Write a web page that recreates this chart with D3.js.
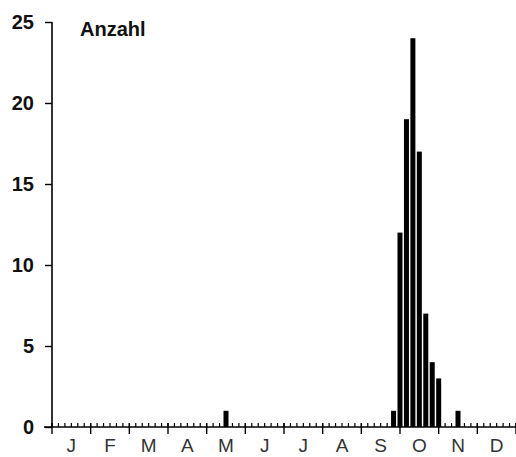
<!DOCTYPE html>
<html>
<head>
<meta charset="utf-8">
<script src="https://cdn.jsdelivr.net/npm/d3@7"></script>
<style>
  body { margin: 0; background: #fff; }
  svg { display: block; }
</style>
</head>
<body>
<svg id="chart" width="516" height="457"></svg>
<script>
// pentads (5-day periods) numbered 0..72 along the year, value = count
const pentads = [27, 53, 54, 55, 56, 57, 58, 59, 60, 63];
const counts  = [1,  1,  12, 19, 24, 17, 7,  4,  3,  1];
const months = ["J", "F", "M", "A", "M", "J", "J", "A", "S", "O", "N", "D"];
const yTicks = [0, 5, 10, 15, 20, 25];

const width = 516, height = 457;
const margin = { top: 22, right: 0, bottom: 30, left: 52 };

const svg = d3.select("#chart");

const x = d3.scaleLinear()
  .domain([0, 72])
  .range([margin.left, width - margin.right]);

const y = d3.scaleLinear()
  .domain([0, 25])
  .range([427, margin.top]);

const data = pentads.map((p, i) => ({ p: p, v: counts[i] }));
const barW = 5;

// bars
svg.append("g")
  .selectAll("rect")
  .data(data)
  .join("rect")
  .attr("x", d => x(d.p) - barW / 2)
  .attr("width", barW)
  .attr("y", d => y(d.v))
  .attr("height", d => y(0) - y(d.v))
  .attr("fill", "#000");

// y axis
const yAxis = g => g
  .attr("transform", `translate(${margin.left},0)`)
  .call(d3.axisLeft(y).tickValues(yTicks).tickSize(7).tickPadding(11))
  .call(g => g.select(".domain").attr("d", `M0,${y(25)}H0V${y(0)}`).attr("stroke-width", 1.6))
  .call(g => g.selectAll(".tick line").attr("stroke-width", 1.4))
  .call(g => g.selectAll("text")
    .attr("font-family", "Liberation Sans, Arial, sans-serif")
    .attr("font-weight", "bold")
    .attr("font-size", 20)
    .attr("fill", "#111"));
svg.append("g").call(yAxis);

// x axis baseline
const base = y(0);
svg.append("line")
  .attr("x1", margin.left - 8).attr("x2", x(72))
  .attr("y1", base).attr("y2", base)
  .attr("stroke", "#000").attr("stroke-width", 1.6);

// minor (pentad) ticks pointing up
svg.append("g")
  .selectAll("line")
  .data(d3.range(0, 73))
  .join("line")
  .attr("x1", d => x(d)).attr("x2", d => x(d))
  .attr("y1", base).attr("y2", base - 4)
  .attr("stroke", "#000").attr("stroke-width", 1.2);

// month ticks
svg.append("g")
  .selectAll("line")
  .data(d3.range(0, 13).map(m => m * 6))
  .join("line")
  .attr("x1", d => x(d)).attr("x2", d => x(d))
  .attr("y1", base - 4).attr("y2", base + 7)
  .attr("stroke", "#000").attr("stroke-width", 1.4);

// month labels
svg.append("g")
  .selectAll("text")
  .data(months)
  .join("text")
  .attr("x", (d, i) => x(i * 6 + 3))
  .attr("y", base + 25)
  .attr("text-anchor", "middle")
  .attr("font-family", "Liberation Sans, Arial, sans-serif")
  .attr("font-size", 19)
  .attr("fill", "#333")
  .text(d => d);

// axis title
svg.append("text")
  .attr("x", 80)
  .attr("y", 36)
  .attr("font-family", "Liberation Sans, Arial, sans-serif")
  .attr("font-weight", "bold")
  .attr("font-size", 20)
  .attr("fill", "#111")
  .text("Anzahl");
</script>
</body>
</html>
